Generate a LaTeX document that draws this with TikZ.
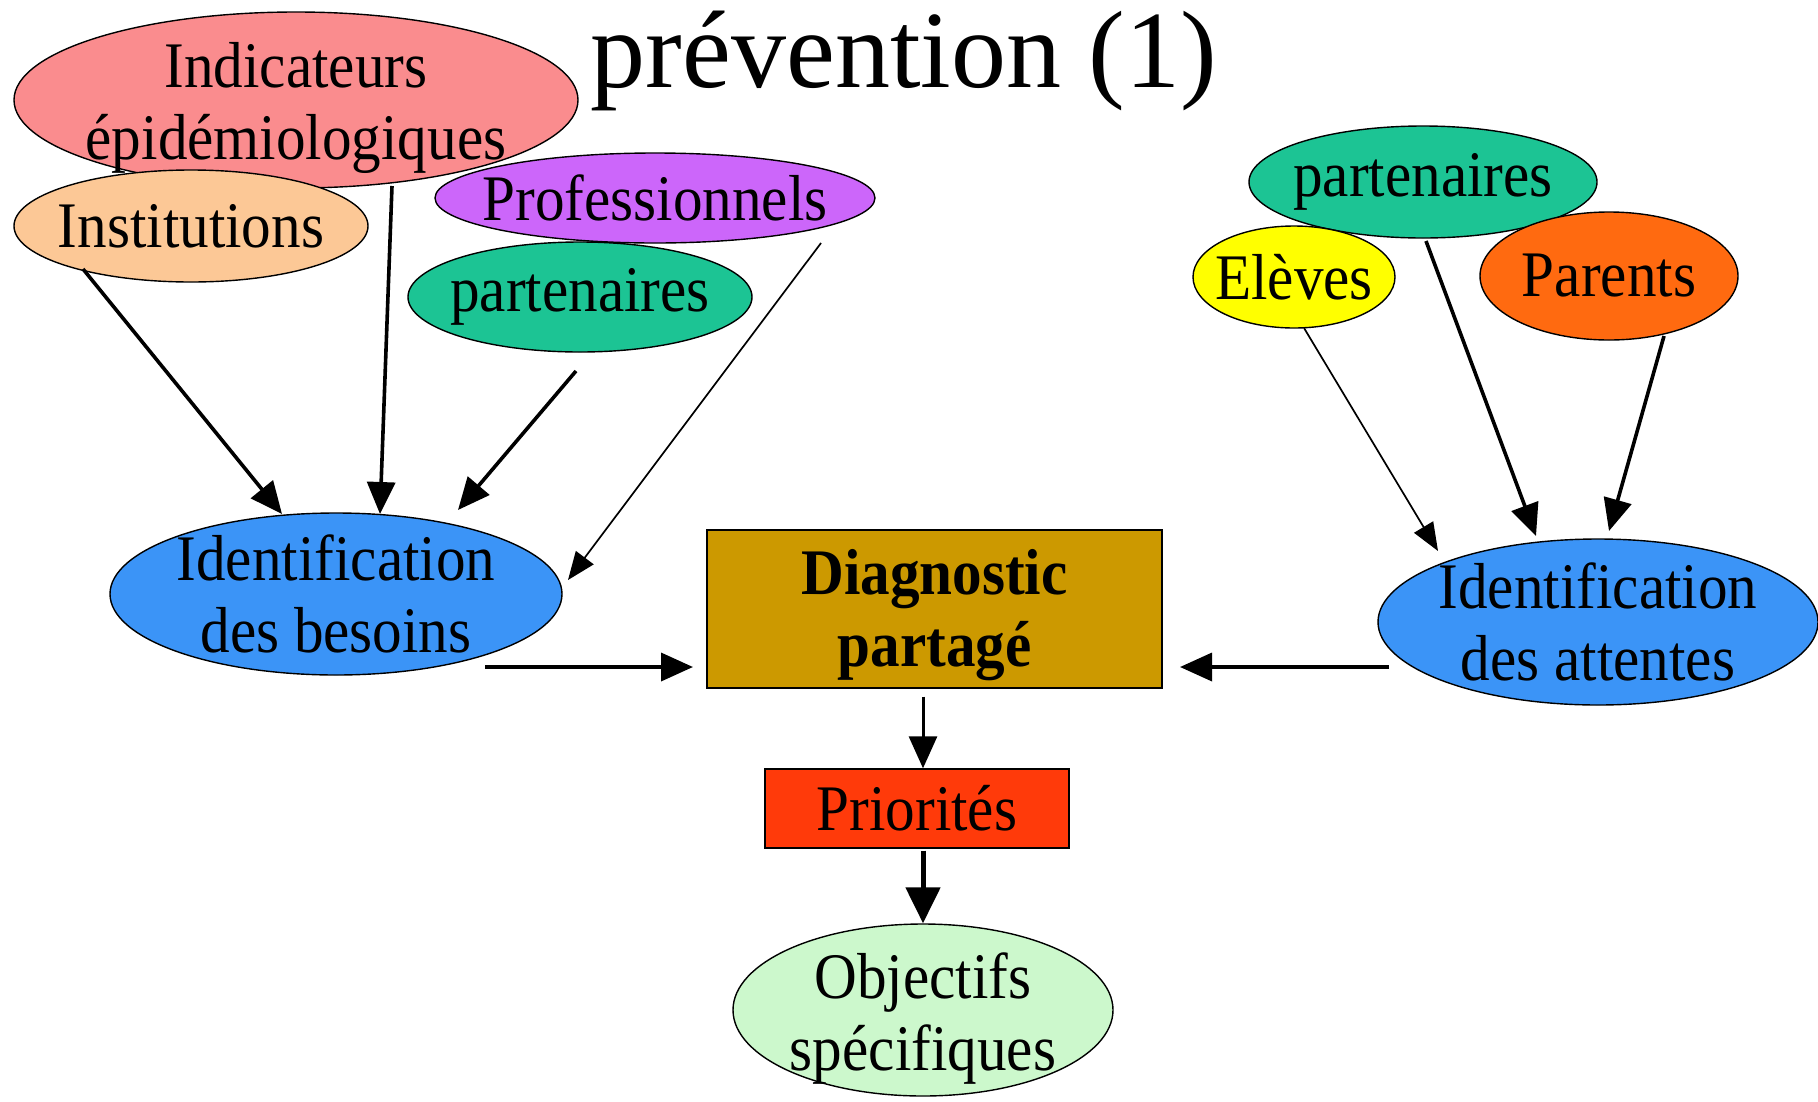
\documentclass[tikz,border=0pt]{standalone}
\usepackage{fontspec}
\setmainfont{Liberation Serif}
\newfontfamily\narrowserif{Liberation Serif}[FakeStretch=0.91]
\usetikzlibrary{shapes.geometric,arrows.meta,calc}

\definecolor{cpink}{HTML}{FA8C8E}
\definecolor{cpeach}{HTML}{FCC896}
\definecolor{cviolet}{HTML}{CC66FA}
\definecolor{cteal}{HTML}{1CC494}
\definecolor{cblue}{HTML}{3B94F7}
\definecolor{cgold}{HTML}{CC9900}
\definecolor{cred}{HTML}{FF3A0A}
\definecolor{cmint}{HTML}{CCF8CC}
\definecolor{cyellow}{HTML}{FFFF00}
\definecolor{corange}{HTML}{FF6A10}

\begin{document}
\begin{tikzpicture}[x=1pt,y=-1pt,
  txt/.style={font=\narrowserif\fontsize{65}{72}\selectfont, align=center, inner sep=0pt},
  bubble/.style={ellipse, draw=black, line width=1.4pt, inner sep=0pt},
  box/.style={rectangle, draw=black, line width=1.4pt, inner sep=0pt},
  thickarr/.style={line width=3.6pt, -{Triangle[length=32pt,width=28pt]}},
  thinarr/.style={line width=1.7pt, -{Triangle[length=28pt,width=22pt]}}
]
\useasboundingbox (0,0) rectangle (1818,1101);
\fill[white] (0,0) rectangle (1818,1101);

% title
\node[anchor=base, font=\fontsize{110}{120}\selectfont, inner sep=0pt] (title) at (904,87) {prévention (1)};

% sources on the left
\node[bubble, fill=cpink, minimum width=564, minimum height=176,
      label={[txt,yshift=-8pt]center:{Indicateurs\\épidémiologiques}}] (ind) at (296,100) {};
\node[bubble, fill=cpeach, minimum width=354, minimum height=112,
      label={[txt]center:Institutions}] (inst) at (191,226) {};
\node[bubble, fill=cviolet, minimum width=440, minimum height=90,
      label={[txt]center:Professionnels}] (prof) at (655,198) {};
\node[bubble, fill=cteal, minimum width=344, minimum height=110,
      label={[txt]center:partenaires}] (partL) at (580,297) {};

% sources on the right
\node[bubble, fill=cteal, minimum width=348, minimum height=112,
      label={[txt]center:partenaires}] (partR) at (1423,182) {};
\node[bubble, fill=cyellow, minimum width=202, minimum height=102,
      label={[txt]center:Elèves}] (elev) at (1294,277) {};
\node[bubble, fill=corange, minimum width=258, minimum height=128,
      label={[txt]center:Parents}] (par) at (1609,276) {};

% needs and expectations
\node[bubble, fill=cblue, minimum width=452, minimum height=162,
      label={[txt]center:{Identification\\des besoins}}] (bes) at (336,594) {};
\node[bubble, fill=cblue, minimum width=440, minimum height=166,
      label={[txt]center:{Identification\\des attentes}}] (att) at (1598,622) {};

% central chain
\node[box, fill=cgold, minimum width=455, minimum height=158,
      label={[txt,font=\narrowserif\fontsize{65}{72}\selectfont\bfseries,yshift=-6pt]center:{Diagnostic\\partagé}}]
      (diag) at (934.5,609) {};
\node[box, fill=cred, minimum width=304, minimum height=79,
      label={[txt]center:Priorités}] (prio) at (917,808.5) {};
\node[bubble, fill=cmint, minimum width=380, minimum height=172,
      label={[txt,yshift=-9pt]center:{Objectifs\\spécifiques}}] (obj) at (923,1010) {};

% arrows into the needs
\draw[thickarr] ($(inst)+(-108,43)$) -- ($(bes)+(-54,-80)$);
\draw[thickarr] ($(ind)+(96,86)$) -- ($(bes)+(44,-80)$);
\draw[thickarr] ($(partL)+(-4,74)$) -- ($(bes)+(122,-84)$);
\draw[thinarr] ($(prof)+(166,45)$) -- ($(bes)+(232,-14)$);

% arrows into the expectations
\draw[thinarr] ($(elev)+(10,51)$) -- ($(att)+(-160,-71)$);
\draw[thickarr] ($(partR)+(3,59)$) -- ($(att)+(-62,-86)$);
\draw[thickarr] ($(par)+(55,60)$) -- ($(att)+(11,-91)$);

% into the shared diagnosis and down the chain
\draw[thickarr] ($(bes)+(149,73)$) -- ($(diag)+(-241.5,58)$);
\draw[thickarr] ($(att)+(-209,45)$) -- ($(diag)+(245.5,58)$);
\draw[thickarr, line width=3pt] ($(obj |- diag.south)+(0,8)$) -- (obj |- prio.north);
\draw[thickarr, line width=5pt, -{Triangle[length=36pt,width=34pt]}] ($(obj |- prio.south)+(0,2)$) -- (obj.north);
\end{tikzpicture}
\end{document}
